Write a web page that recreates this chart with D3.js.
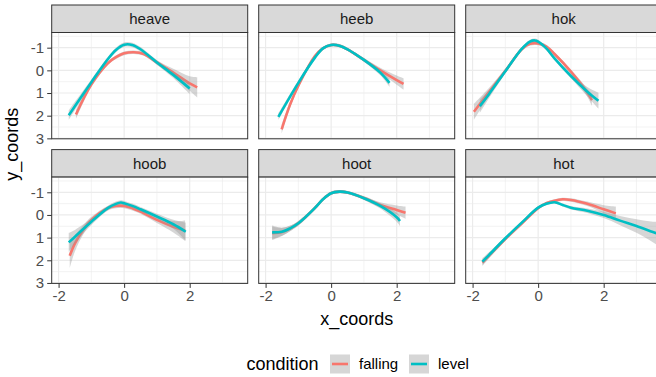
<!DOCTYPE html>
<html>
<head>
<meta charset="utf-8">
<script src="https://cdn.jsdelivr.net/npm/d3@7"></script>
<style>
  body { margin: 0; background: #fff; }
  svg { display: block; font-family: "Liberation Sans", Arial, sans-serif; }
</style>
</head>
<body>
<div class="visHolder"></div>
<script>
const w = 656;
const h = 377;

// facets and conditions
const panels = ["heave", "heeb", "hok", "hoob", "hoot", "hot"];
const conditions = ["falling", "level"];
const colors = ["#F8766D", "#00BFC4"];
const xTicks = [-2, 0, 2];
const yTicks = [-1, 0, 1, 2, 3];

// smoothed curves: [x, y, half-width of band]
const heaveFalling = [[-1.47,1.95,0.2],[-1.0,0.62,0.12],[-0.5,-0.31,0.08],[-0.25,-0.58,0.08],[0,-0.75,0.08],[0.3,-0.8,0.08],[0.6,-0.72,0.08],[1.0,-0.35,0.1],[1.5,0.1,0.17],[2.0,0.58,0.32],[2.23,0.75,0.45]];
const heaveLevel = [[-1.69,1.98,0.22],[-1.0,0.52,0.12],[-0.5,-0.49,0.1],[-0.25,-0.9,0.1],[0,-1.13,0.1],[0.25,-1.12,0.1],[0.5,-0.93,0.1],[1.0,-0.35,0.1],[1.5,0.2,0.14],[2.0,0.8,0.25]];
const heebFalling = [[-1.51,2.6,0.2],[-1.25,1.5,0.15],[-1.0,0.68,0.1],[-0.5,-0.62,0.08],[-0.25,-0.97,0.07],[0,-1.12,0.07],[0.25,-1.09,0.07],[0.5,-0.93,0.07],[1.0,-0.46,0.08],[1.5,0.0,0.12],[2.0,0.43,0.2],[2.21,0.6,0.25]];
const heebLevel = [[-1.61,2.05,0.15],[-1.0,0.55,0.1],[-0.5,-0.55,0.08],[-0.25,-0.97,0.07],[0,-1.12,0.07],[0.25,-1.09,0.07],[0.5,-0.93,0.07],[1.0,-0.46,0.08],[1.5,0.1,0.12],[1.78,0.55,0.18]];
const hokFalling = [[-1.96,1.83,0.35],[-1.5,0.96,0.18],[-1.0,0.02,0.1],[-0.5,-0.93,0.08],[-0.25,-1.17,0.08],[0,-1.19,0.08],[0.25,-1.05,0.08],[0.5,-0.72,0.08],[1.0,0.06,0.1],[1.5,0.98,0.18],[1.64,1.31,0.25]];
const hokLevel = [[-1.78,1.58,0.3],[-1.5,1.05,0.18],[-1.0,0.04,0.1],[-0.5,-0.95,0.08],[-0.25,-1.27,0.08],[-0.1,-1.32,0.08],[0,-1.27,0.08],[0.25,-0.97,0.08],[0.5,-0.53,0.08],[1.0,0.25,0.1],[1.5,0.94,0.2],[1.84,1.34,0.35]];
const hoobFalling = [[-1.66,1.8,0.55],[-1.5,1.25,0.35],[-1.25,0.66,0.2],[-1.0,0.22,0.14],[-0.5,-0.3,0.1],[-0.25,-0.4,0.1],[0,-0.4,0.1],[0.25,-0.3,0.1],[0.5,-0.15,0.1],[1.0,0.22,0.14],[1.5,0.52,0.25],[1.86,0.69,0.45]];
const hoobLevel = [[-1.69,1.21,0.42],[-1.5,0.96,0.3],[-1.0,0.3,0.14],[-0.5,-0.3,0.1],[-0.25,-0.49,0.1],[-0.1,-0.55,0.1],[0,-0.52,0.1],[0.25,-0.4,0.1],[0.5,-0.25,0.1],[1.0,0.07,0.12],[1.5,0.41,0.2],[1.88,0.74,0.4]];
const hootFalling = [[-1.8,0.81,0.3],[-1.5,0.75,0.18],[-1.25,0.6,0.12],[-1.0,0.37,0.1],[-0.5,-0.3,0.08],[-0.25,-0.69,0.07],[0,-0.96,0.07],[0.25,-1.03,0.07],[0.5,-0.99,0.07],[1.0,-0.75,0.08],[1.5,-0.44,0.12],[2.0,-0.22,0.2],[2.27,-0.1,0.27]];
const hootLevel = [[-1.8,0.77,0.3],[-1.5,0.74,0.18],[-1.25,0.59,0.12],[-1.0,0.37,0.1],[-0.5,-0.3,0.08],[-0.25,-0.69,0.07],[0,-0.96,0.07],[0.25,-1.03,0.07],[0.5,-0.99,0.07],[1.0,-0.74,0.08],[1.5,-0.4,0.12],[2.0,0.1,0.2],[2.1,0.27,0.22]];
const hotFalling = [[-1.7,2.1,0.15],[-1.5,1.8,0.12],[-1.0,1.06,0.08],[-0.5,0.38,0.07],[0,-0.3,0.06],[0.25,-0.52,0.06],[0.5,-0.63,0.06],[0.75,-0.69,0.07],[1.0,-0.66,0.08],[1.5,-0.49,0.1],[2.0,-0.25,0.18],[2.37,-0.07,0.3]];
const hotLevel = [[-1.7,2.06,0.15],[-1.5,1.77,0.12],[-1.0,1.03,0.08],[-0.5,0.34,0.07],[0,-0.32,0.06],[0.25,-0.49,0.06],[0.5,-0.56,0.06],[0.75,-0.44,0.07],[1.0,-0.32,0.08],[1.5,-0.19,0.1],[2.0,0,0.14],[2.5,0.25,0.2],[3.0,0.49,0.3],[3.5,0.75,0.45],[3.7,0.85,0.55]];

const curves = [
    [heaveFalling, heaveLevel], [heebFalling, heebLevel], [hokFalling, hokLevel],
    [hoobFalling, hoobLevel], [hootFalling, hootLevel], [hotFalling, hotLevel]
];

// layout
const left = 51.7;
const panelW = 196;
const panelStep = 207;
const top0 = 5;
const rowStep = 144.6;
const stripH = 27.5;
const panelH = 106.3;

const xScale = d3.scaleLinear().domain([-2.21, 3.77]).range([0, panelW]);
const yScale = d3.scaleLinear().domain([-1.67, 3.02]).range([0, panelH]);
const tickFmt = d => String(d); // plain hyphen like ggplot

const svg = d3.select(".visHolder")
    .append("svg")
    .attr("width", w)
    .attr("height", h);

const line = d3.line()
    .x(d => xScale(d[0]))
    .y(d => yScale(d[1]))
    .curve(d3.curveCatmullRom);

const band = d3.area()
    .x(d => xScale(d[0]))
    .y0(d => yScale(d[1] + d[2]))
    .y1(d => yScale(d[1] - d[2]))
    .curve(d3.curveCatmullRom);

panels.forEach((name, i) => {
    const col = i % 3;
    const row = Math.floor(i / 3);
    const px = left + col * panelStep;
    const sy = top0 + row * rowStep;
    const py = sy + stripH;

    //Strip
    svg.append("rect")
        .attr("x", px).attr("y", sy)
        .attr("width", panelW).attr("height", stripH)
        .attr("fill", "#D9D9D9")
        .attr("stroke", "#333").attr("stroke-width", 1);
    svg.append("text")
        .attr("x", px + panelW / 2).attr("y", sy + stripH / 2)
        .attr("dy", "0.35em")
        .attr("text-anchor", "middle")
        .attr("font-size", "15px")
        .attr("fill", "#1A1A1A")
        .text(name);

    const g = svg.append("g").attr("transform", `translate(${px}, ${py})`);

    g.append("clipPath").attr("id", "clip" + i)
        .append("rect").attr("width", panelW).attr("height", panelH);

    g.append("rect").attr("width", panelW).attr("height", panelH).attr("fill", "#fff");

    //Grid
    const xMinor = [-1, 1, 3];
    const yMinor = [-1.5, -0.5, 0.5, 1.5, 2.5];
    g.selectAll(".xminor").data(xMinor).enter().append("line")
        .attr("x1", d => xScale(d)).attr("x2", d => xScale(d))
        .attr("y1", 0).attr("y2", panelH)
        .attr("stroke", "#EBEBEB").attr("stroke-width", 0.6);
    g.selectAll(".yminor").data(yMinor).enter().append("line")
        .attr("x1", 0).attr("x2", panelW)
        .attr("y1", d => yScale(d)).attr("y2", d => yScale(d))
        .attr("stroke", "#EBEBEB").attr("stroke-width", 0.6);
    g.selectAll(".xmajor").data(xTicks).enter().append("line")
        .attr("x1", d => xScale(d)).attr("x2", d => xScale(d))
        .attr("y1", 0).attr("y2", panelH)
        .attr("stroke", "#EBEBEB").attr("stroke-width", 1.2);
    g.selectAll(".ymajor").data(yTicks).enter().append("line")
        .attr("x1", 0).attr("x2", panelW)
        .attr("y1", d => yScale(d)).attr("y2", d => yScale(d))
        .attr("stroke", "#EBEBEB").attr("stroke-width", 1.2);

    //Smooths
    const marks = g.append("g").attr("clip-path", `url(#clip${i})`);
    curves[i].forEach((c, k) => {
        marks.append("path")
            .attr("d", band(c))
            .attr("fill", "#999999")
            .attr("fill-opacity", 0.4);
        marks.append("path")
            .attr("d", line(c))
            .attr("fill", "none")
            .attr("stroke", colors[k])
            .attr("stroke-width", 2.6);
    });

    g.append("rect").attr("width", panelW).attr("height", panelH)
        .attr("fill", "none").attr("stroke", "#333").attr("stroke-width", 1);

    //Axes
    if (col === 0) {
        const yAxis = d3.axisLeft(yScale).tickValues(yTicks).tickFormat(tickFmt).tickSize(4.5).tickPadding(3);
        const ga = g.append("g").call(yAxis);
        ga.select(".domain").remove();
        ga.selectAll("line").attr("stroke", "#333");
        ga.selectAll("text").attr("font-size", "15px").attr("fill", "#4D4D4D")
            .attr("font-family", "Liberation Sans, Arial, sans-serif");
    }
    if (row === 1) {
        const xAxis = d3.axisBottom(xScale).tickValues(xTicks).tickFormat(tickFmt).tickSize(4.5).tickPadding(2);
        const ga = g.append("g").attr("transform", `translate(0, ${panelH})`).call(xAxis);
        ga.select(".domain").remove();
        ga.selectAll("line").attr("stroke", "#333");
        ga.selectAll("text").attr("font-size", "15px").attr("fill", "#4D4D4D")
            .attr("font-family", "Liberation Sans, Arial, sans-serif");
    }
});

//Axis titles
svg.append("text")
    .attr("x", left + (2 * panelStep + panelW) / 2).attr("y", 325)
    .attr("text-anchor", "middle")
    .attr("font-size", "18px").attr("fill", "#000")
    .text("x_coords");
svg.append("text")
    .attr("transform", `translate(18, ${top0 + (rowStep + stripH + panelH) / 2}) rotate(-90)`)
    .attr("text-anchor", "middle")
    .attr("font-size", "18px").attr("fill", "#000")
    .text("y_coords");

//Legend
const legend = svg.append("g").attr("transform", "translate(246.5, 364)");
legend.append("text")
    .attr("x", 0).attr("dy", "0.35em")
    .attr("font-size", "18px")
    .text("condition");
const keyX = [83.5, 162.5];
conditions.forEach((c, k) => {
    legend.append("rect")
        .attr("x", keyX[k]).attr("y", -9.5)
        .attr("width", 20).attr("height", 19)
        .attr("fill", "#D6D6D6");
    legend.append("line")
        .attr("x1", keyX[k] + 2).attr("x2", keyX[k] + 18)
        .attr("y1", 0).attr("y2", 0)
        .attr("stroke", colors[k]).attr("stroke-width", 2.6);
    legend.append("text")
        .attr("x", keyX[k] + 29).attr("dy", "0.35em")
        .attr("font-size", "15px")
        .attr("fill", "#000")
        .text(c);
});
</script>
</body>
</html>
